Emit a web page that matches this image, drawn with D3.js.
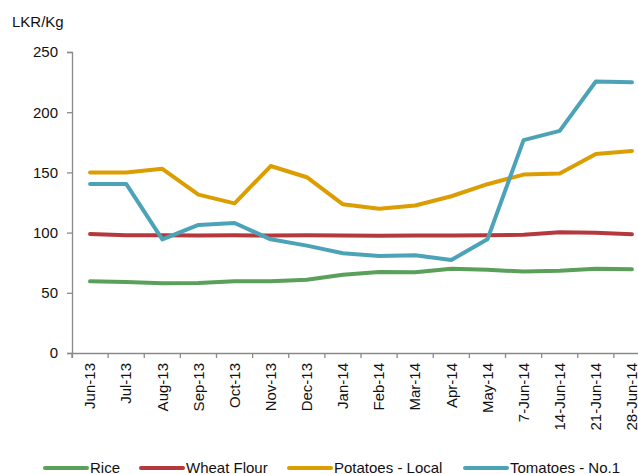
<!DOCTYPE html>
<html>
<head>
<meta charset="utf-8">
<script src="https://cdn.jsdelivr.net/npm/d3@7"></script>
<style>
  body { margin: 0; background: #fff; }
  text { font-family: "Liberation Sans", Arial, sans-serif; fill: #111; }
</style>
</head>
<body>
<script>
// chart data
var months = ["Jun-13", "Jul-13", "Aug-13", "Sep-13", "Oct-13", "Nov-13", "Dec-13", "Jan-14",
  "Feb-14", "Mar-14", "Apr-14", "May-14", "7-Jun-14", "14-Jun-14", "21-Jun-14", "28-Jun-14"];
var seriesNames = ["Rice", "Wheat Flour", "Potatoes - Local", "Tomatoes - No.1"];
var rice = [59.5, 59, 58, 58.2, 59.5, 59.5, 60.8, 65, 67.3, 67, 70, 69.2, 67.6, 68.4, 70, 69.5];
var wheatFlour = [98.8, 97.7, 97.8, 97.6, 97.7, 97.5, 97.8, 97.5, 97.3, 97.6, 97.6, 97.7, 98.2, 100.2, 99.8, 98.6];
var potatoes = [150, 150, 153, 131.5, 124.3, 155.3, 146, 123.5, 119.8, 122.5, 130.2, 140.2, 148.2, 149, 165.2, 167.8];
var tomatoes = [140.4, 140.4, 94.4, 106.4, 108, 94.4, 89.2, 82.8, 80.6, 81.2, 77.3, 94.4, 176.8, 184.5, 225.5, 224.8];
var yTicks = [0, 50, 100, 150, 200, 250];
var colors = ["#5aa05a", "#b5393c", "#dc9d00", "#4ca3b8"];

var width = 638, height = 474;
var svg = d3.select("body").append("svg")
  .attr("width", width)
  .attr("height", height);

var x = d3.scaleBand().domain(months).range([72, 650]);
var y = d3.scaleLinear().domain([0, 250]).range([353, 52]);

// y axis
var yAxis = svg.append("g")
  .attr("transform", "translate(72,0)")
  .call(d3.axisLeft(y).tickValues(yTicks).tickSize(5).tickPadding(9));
yAxis.selectAll("text").style("font-size", "15px");

// x axis
var xAxis = svg.append("g")
  .attr("transform", "translate(0,353)")
  .call(d3.axisBottom(x).tickSize(5).tickSizeOuter(5));
xAxis.selectAll(".tick line")
  .attr("transform", "translate(" + (-x.bandwidth() / 2) + ",0)");
xAxis.selectAll("text")
  .style("font-size", "15px")
  .attr("transform", "rotate(-90)")
  .attr("text-anchor", "end")
  .attr("x", -10)
  .attr("y", 0)
  .attr("dy", "0.35em");

svg.selectAll(".domain, .tick line").attr("stroke", "#8a8a8a").attr("stroke-width", 1.3);

svg.append("text")
  .attr("x", 12).attr("y", 27)
  .style("font-size", "15px")
  .text("LKR/Kg");

var allSeries = [rice, wheatFlour, potatoes, tomatoes];
var line = d3.line()
  .x(function (d, i) { return x(months[i]) + x.bandwidth() / 2; })
  .y(function (d) { return y(d); });

svg.append("g").selectAll("path")
  .data(allSeries)
  .enter().append("path")
  .attr("d", line)
  .attr("fill", "none")
  .attr("stroke", function (d, i) { return colors[i]; })
  .attr("stroke-width", 4)
  .attr("stroke-linecap", "round")
  .attr("stroke-linejoin", "round");

// legend
var legendX = [45, 141, 289, 465];
var legend = svg.append("g").selectAll("g")
  .data(seriesNames)
  .enter().append("g")
  .attr("transform", function (d, i) { return "translate(" + legendX[i] + ",468)"; });
legend.append("line")
  .attr("x1", 0).attr("x2", 42)
  .attr("stroke", function (d, i) { return colors[i]; })
  .attr("stroke-width", 4)
  .attr("stroke-linecap", "round");
legend.append("text")
  .attr("x", 45)
  .attr("dy", "0.35em")
  .style("font-size", "15px")
  .text(function (d) { return d; });
</script>
</body>
</html>
